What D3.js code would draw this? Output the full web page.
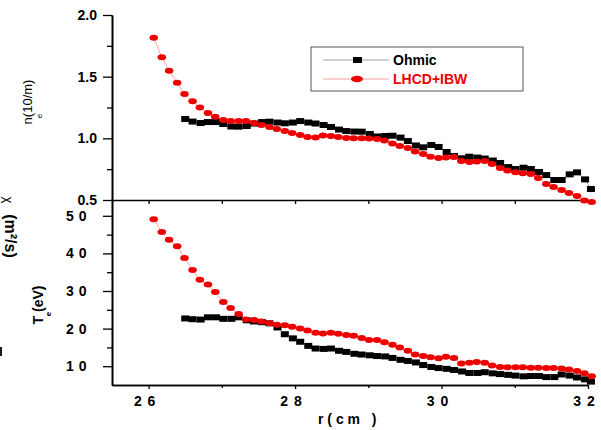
<!DOCTYPE html>
<html>
<head>
<meta charset="utf-8">
<script src="https://cdnjs.cloudflare.com/ajax/libs/d3/7.8.5/d3.min.js"></script>
<style>
  html, body { margin: 0; padding: 0; background: #fff; }
  svg { display: block; }
  text { font-family: "Liberation Sans", Arial, sans-serif; }
</style>
</head>
<body>
<svg id="chart" width="601" height="430"></svg>
<script>
// ---- data ----
const seriesNames = ["Ohmic", "LHCD+IBW"];

const rOhmic = [26.50, 26.60, 26.71, 26.81, 26.92, 27.02, 27.13, 27.23, 27.34, 27.44,
  27.55, 27.65, 27.76, 27.86, 27.97, 28.07, 28.18, 28.28, 28.39, 28.49,
  28.60, 28.70, 28.81, 28.91, 29.02, 29.12, 29.23, 29.33, 29.44, 29.54,
  29.65, 29.75, 29.86, 29.96, 30.07, 30.17, 30.28, 30.38, 30.49, 30.59,
  30.70, 30.80, 30.91, 31.01, 31.12, 31.22, 31.33, 31.43, 31.54, 31.64,
  31.75, 31.85, 31.96, 32.04];

const rLHCD = [26.07, 26.18, 26.28, 26.39, 26.49, 26.60, 26.70, 26.81, 26.91, 27.02,
  27.12, 27.23, 27.33, 27.44, 27.54, 27.65, 27.75, 27.86, 27.96, 28.07,
  28.17, 28.28, 28.38, 28.49, 28.59, 28.70, 28.80, 28.91, 29.01, 29.12,
  29.22, 29.33, 29.43, 29.54, 29.64, 29.75, 29.85, 29.96, 30.06, 30.17,
  30.27, 30.38, 30.48, 30.59, 30.69, 30.80, 30.90, 31.01, 31.11, 31.22,
  31.32, 31.43, 31.53, 31.64, 31.74, 31.85, 31.95, 32.05];

const neOhmic = [1.157, 1.136, 1.124, 1.132, 1.132, 1.116, 1.096, 1.095, 1.100, 1.120,
  1.132, 1.135, 1.128, 1.122, 1.128, 1.140, 1.128, 1.120, 1.108, 1.092,
  1.071, 1.059, 1.055, 1.054, 1.035, 1.015, 1.019, 1.021, 1.006, 0.978,
  0.942, 0.927, 0.946, 0.930, 0.889, 0.856, 0.838, 0.851, 0.844, 0.836,
  0.820, 0.800, 0.767, 0.751, 0.762, 0.751, 0.727, 0.702, 0.662, 0.662,
  0.708, 0.724, 0.667, 0.589];

const neLHCD = [1.816, 1.657, 1.548, 1.451, 1.359, 1.300, 1.251, 1.205, 1.175, 1.148,
  1.140, 1.140, 1.140, 1.124, 1.108, 1.092, 1.075, 1.059, 1.043, 1.027,
  1.011, 1.006, 1.023, 1.019, 1.011, 1.002, 1.000, 1.000, 0.998, 0.994,
  0.982, 0.958, 0.938, 0.921, 0.893, 0.873, 0.851, 0.840, 0.844, 0.848,
  0.816, 0.808, 0.812, 0.816, 0.792, 0.759, 0.739, 0.724, 0.716, 0.710,
  0.678, 0.629, 0.605, 0.581, 0.556, 0.532, 0.496, 0.483];

const teOhmic = [22.7, 22.5, 22.4, 23.0, 23.0, 22.6, 22.6, 23.0, 22.2, 21.9,
  21.7, 21.4, 20.3, 18.5, 17.4, 16.5, 15.4, 14.7, 14.6, 14.7,
  14.1, 13.8, 13.3, 13.1, 12.9, 12.7, 12.6, 12.2, 11.7, 11.4,
  11.0, 10.3, 9.8, 9.5, 9.3, 9.0, 8.6, 8.2, 8.2, 8.4,
  8.1, 7.9, 7.7, 7.5, 7.3, 7.4, 7.4, 7.1, 7.1, 7.8,
  7.5, 7.0, 6.5, 5.9];

const teLHCD = [49.1, 45.7, 43.6, 41.9, 38.8, 35.6, 33.0, 31.7, 29.7, 27.1,
  25.5, 23.9, 22.45, 22.3, 21.9, 21.4, 21.0, 20.9, 20.5, 20.0,
  19.5, 18.9, 18.7, 18.9, 18.6, 18.3, 18.1, 17.5, 17.0, 17.0,
  16.4, 15.7, 15.0, 14.1, 13.1, 12.7, 12.4, 12.1, 12.5, 12.2,
  10.7, 10.9, 11.1, 10.9, 10.2, 9.8, 9.7, 9.7, 9.7, 9.6,
  9.6, 9.5, 9.5, 9.4, 9.1, 8.7, 8.1, 7.3];

const xMajorTicks = [26, 28, 30, 32];
const xMinorTicks = [27, 29, 31];
const xTickLabels = ["2 6", "2 8", "3 0", "3 2"];
const neMajorTicks = [0.5, 1.0, 1.5, 2.0];
const neMinorTicks = [0.75, 1.25, 1.75];
const neTickLabels = ["0.5", "1.0", "1.5", "2.0"];
const teMajorTicks = [10, 20, 30, 40, 50];
const teMinorTicks = [15, 25, 35, 45];
const teTickLabels = ["1 0", "2 0", "3 0", "4 0", "5 0"];

// ---- drawing ----
const svg = d3.select("#chart");
const RED = "#ee0000";

const x = d3.scaleLinear().domain([25.5, 32]).range([112, 588]);
const yNe = d3.scaleLinear().domain([0.5, 2.0]).range([200, 15]);
const yTe = d3.scaleLinear().domain([5, 54.2]).range([385, 200]);

function styleAxis(g, w) {
  g.selectAll(".domain").attr("stroke", "#000").attr("stroke-width", w);
  g.selectAll(".tick line").attr("stroke", "#000").attr("stroke-width", 1.3);
  g.selectAll(".tick text")
    .attr("fill", "#000")
    .style("font-family", "'Liberation Sans', Arial, sans-serif")
    .style("font-weight", "bold")
    .style("font-size", "14px");
}

// top y axis
const gNe = svg.append("g").attr("transform", "translate(112,0)")
  .call(d3.axisLeft(yNe).tickValues(neMajorTicks).tickSize(9).tickSizeOuter(0)
    .tickPadding(6).tickFormat((d, i) => neTickLabels[i]));
styleAxis(gNe, 1.6);
const gNeMin = svg.append("g").attr("transform", "translate(112,0)")
  .call(d3.axisLeft(yNe).tickValues(neMinorTicks).tickSize(5).tickSizeOuter(0).tickFormat(""));
styleAxis(gNeMin, 1.6);

// bottom y axis
const gTe = svg.append("g").attr("transform", "translate(112,0)")
  .call(d3.axisLeft(yTe).tickValues(teMajorTicks).tickSize(9).tickSizeOuter(0)
    .tickPadding(16).tickFormat((d, i) => teTickLabels[i]));
styleAxis(gTe, 1.6);
gTe.selectAll(".tick text").style("letter-spacing", "0.5px");
const gTeMin = svg.append("g").attr("transform", "translate(112,0)")
  .call(d3.axisLeft(yTe).tickValues(teMinorTicks).tickSize(5).tickSizeOuter(0).tickFormat(""));
styleAxis(gTeMin, 1.6);

// middle x axis (shared border), ticks pointing down
const gMid = svg.append("g").attr("transform", "translate(0,200)")
  .call(d3.axisBottom(x).tickValues(xMajorTicks.concat(xMinorTicks)).tickSize(4).tickSizeOuter(0).tickFormat(""));
styleAxis(gMid, 1.4);

// bottom x axis
const gX = svg.append("g").attr("transform", "translate(0,385)")
  .call(d3.axisBottom(x).tickValues(xMajorTicks).tickSize(4).tickSizeOuter(0)
    .tickPadding(7).tickFormat((d, i) => xTickLabels[i]));
styleAxis(gX, 1.6);
gX.selectAll(".tick text").attr("dx", -4).style("letter-spacing", "1px");
const gXMin = svg.append("g").attr("transform", "translate(0,385)")
  .call(d3.axisBottom(x).tickValues(xMinorTicks).tickSize(3).tickSizeOuter(0).tickFormat(""));
styleAxis(gXMin, 1.6);

// ---- series ----
function drawSeries(rs, vs, yScale, kind) {
  const pts = rs.map((r, i) => [r, vs[i]]);
  const line = d3.line().x(d => x(d[0])).y(d => yScale(d[1]));
  svg.append("path").datum(pts)
    .attr("d", line).attr("fill", "none")
    .attr("stroke", kind === "sq" ? "#777" : "#f77")
    .attr("stroke-width", 0.7);
  if (kind === "sq") {
    svg.append("g").selectAll("rect").data(pts).join("rect")
      .attr("x", d => x(d[0]) - 4).attr("y", d => yScale(d[1]) - 3)
      .attr("width", 8).attr("height", 6).attr("fill", "#000");
  } else {
    svg.append("g").selectAll("ellipse").data(pts).join("ellipse")
      .attr("cx", d => x(d[0])).attr("cy", d => yScale(d[1]))
      .attr("rx", 4.3).attr("ry", 3).attr("fill", RED);
  }
}
drawSeries(rOhmic, neOhmic, yNe, "sq");
drawSeries(rLHCD, neLHCD, yNe, "el");
drawSeries(rOhmic, teOhmic, yTe, "sq");
drawSeries(rLHCD, teLHCD, yTe, "el");

// ---- legend ----
const lg = svg.append("g");
lg.append("rect").attr("x", 311).attr("y", 47).attr("width", 212).attr("height", 44)
  .attr("fill", "#fff").attr("stroke", "#555").attr("stroke-width", 1);
lg.append("line").attr("x1", 323).attr("x2", 389).attr("y1", 60).attr("y2", 60)
  .attr("stroke", "#888").attr("stroke-width", 0.8);
lg.append("rect").attr("x", 353).attr("y", 57).attr("width", 9).attr("height", 6).attr("fill", "#000");
lg.append("text").attr("x", 393).attr("y", 65).text(seriesNames[0])
  .attr("fill", "#000").style("font-weight", "bold").style("font-size", "14px");
lg.append("line").attr("x1", 323).attr("x2", 389).attr("y1", 79).attr("y2", 79)
  .attr("stroke", "#f88").attr("stroke-width", 0.8);
lg.append("ellipse").attr("cx", 357).attr("cy", 79).attr("rx", 6).attr("ry", 3.2).attr("fill", RED);
lg.append("text").attr("x", 393).attr("y", 84).text(seriesNames[1])
  .attr("fill", RED).style("font-weight", "bold").style("font-size", "14px");

// ---- axis titles ----
svg.append("text").attr("transform", "translate(32,102) rotate(-90)")
  .attr("text-anchor", "middle").style("font-size", "13px").attr("fill", "#000")
  .text("n(10/m)");
svg.append("text").attr("transform", "translate(42,116) rotate(-90)")
  .attr("text-anchor", "middle").style("font-size", "8px").attr("fill", "#000")
  .text("e");

svg.append("text").attr("transform", "translate(43,305) rotate(-90)")
  .attr("text-anchor", "middle").style("font-size", "14px").style("font-weight", "bold")
  .attr("fill", "#000").text("T (eV)");
svg.append("text").attr("transform", "translate(51,314) rotate(-90)")
  .attr("text-anchor", "middle").style("font-size", "8px").style("font-weight", "bold")
  .attr("fill", "#000").text("e");

svg.append("text").attr("transform", "translate(5,236) rotate(90)")
  .attr("text-anchor", "middle").style("font-size", "16px").style("font-weight", "bold")
  .attr("fill", "#000").text("(m²/s)");
svg.append("text").attr("transform", "translate(4,200) rotate(90)")
  .attr("text-anchor", "middle").style("font-size", "13px")
  .attr("fill", "#000").text("χ");
// clipped fragment of a glyph at the left edge
svg.append("line").attr("x1", 1).attr("x2", 1).attr("y1", 347).attr("y2", 356)
  .attr("stroke", "#000").attr("stroke-width", 1.8);

svg.append("text").attr("x", 318).attr("y", 424)
  .style("font-size", "14px").style("font-weight", "bold").attr("fill", "#000")
  .attr("xml:space", "preserve").style("white-space", "pre")
  .text("r ( c m   )");
</script>
</body>
</html>
